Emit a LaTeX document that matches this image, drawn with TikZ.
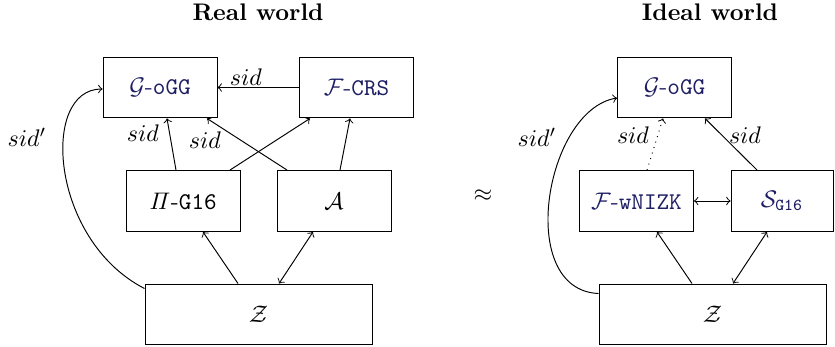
\documentclass[tikz,border=0pt]{standalone}
\usetikzlibrary{calc}
\definecolor{navy}{RGB}{30,30,100}
\begin{document}
\begin{tikzpicture}[x=0.41667pt,y=-0.41667pt,
  box/.style={draw, minimum width=47.5pt, minimum height=25.4pt, inner sep=0pt},
  sbox/.style={draw, minimum width=42.5pt, minimum height=25.4pt, inner sep=0pt},
  zbox/.style={draw, minimum width=94.6pt, minimum height=25pt, inner sep=0pt},
  lbl/.style={inner sep=0pt},
  arr/.style={->},
  darr/.style={<->}]
\useasboundingbox (0,0) rectangle (835,347);
% titles
\node[font=\bfseries] (t1) at (258,12) {Real world};
\node[font=\bfseries] (t2) at (710,12) {Ideal world};
% real world
\node[box, text=navy] (G1) at (160,87.5) {$\mathcal{G}$-\texttt{oGG}};
\node[box, text=navy] (F1) at (356.5,87.5) {$\mathcal{F}$-\texttt{CRS}};
\node[box] (P1) at (183,201) {$\mathit{\Pi}$-\texttt{G16}};
\node[box] (A1) at (334,201) {$\mathcal{A}$};
\node[zbox] (Z1) at (258.5,314) {$\mathcal{Z}$};
% ideal world
\node[box, text=navy] (G2) at (674.5,87.5) {$\mathcal{G}$-\texttt{oGG}};
\node[box, text=navy] (W) at (636.5,201) {$\mathcal{F}$-\texttt{wNIZK}};
\node[sbox, text=navy] (S) at (782,201) {$\mathcal{S}_{\mathtt{G16}}$};
\node[zbox] (Z2) at (712.5,314) {$\mathcal{Z}$};
\node (approx) at (483,196) {$\approx$};
% real world connectors
\draw[arr] (F1.west) -- (G1.east);
\draw[arr] ($(P1.north)+(-7,0)$) -- ($(G1.south)+(7,0)$);
\draw[arr] ($(P1.north)+(47,0)$) -- ($(F1.south)+(-46.5,0)$);
\draw[arr] ($(A1.north)+(-47,0)$) -- ($(G1.south)+(47,0)$);
\draw[arr] ($(A1.north)+(6,0)$) -- ($(F1.south)+(-6.5,0)$);
\draw[arr] ($(Z1.north)+(-20.5,0)$) -- ($(P1.south)+(20,0)$);
\draw[darr] ($(Z1.north)+(20.5,0)$) -- ($(A1.south)+(-21,0)$);
\draw[arr] ($(Z1.north west)+(0,5)$) .. controls (50,240) and (40,89) .. ($(G1.west)+(0,1.5)$);
% real world labels
\node[lbl] (l1) at (246,77) {$sid$};
\node[lbl] (l2) at (143,133) {$sid$};
\node[lbl] (l3) at (205,140) {$sid$};
\node[lbl] (l4) at (27,137) {$sid'$};
% ideal world connectors
\draw[arr, dotted] ($(W.north)+(10.5,0)$) -- ($(G2.south)+(-11.5,0)$);
\draw[arr] ($(S.north)+(-25,0)$) -- ($(G2.south)+(30.5,0)$);
\draw[darr] (W.east) -- (S.west);
\draw[arr] ($(Z2.north)+(-20.5,0)$) -- ($(W.south)+(20.5,0)$);
\draw[darr] ($(Z2.north)+(20.5,0)$) -- ($(S.south)+(-15,0)$);
\draw[arr] ($(Z2.north west)+(0,10)$) .. controls (515,290) and (545,110) .. ($(G2.west)+(0,10.5)$);
% ideal world labels
\node[lbl] (l5) at (633,135) {$sid$};
\node[lbl] (l6) at (745,135) {$sid$};
\node[lbl] (l7) at (537,137) {$sid'$};
\end{tikzpicture}
\end{document}
